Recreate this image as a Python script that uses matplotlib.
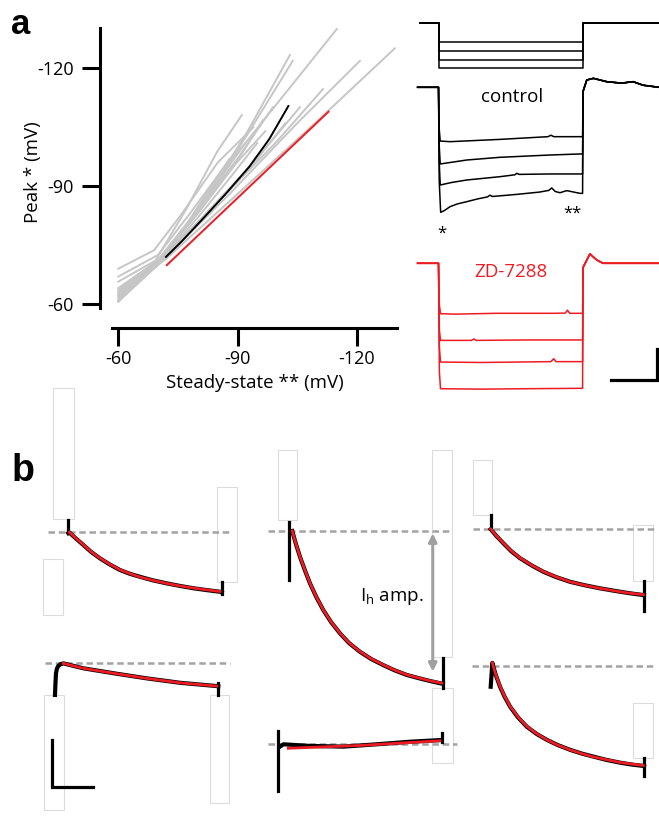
import numpy as np
import matplotlib
matplotlib.use('Agg')
import matplotlib.pyplot as plt
from matplotlib.patches import Rectangle

plt.rcParams['font.family'] = ['Open Sans', 'DejaVu Sans']
plt.rcParams['axes.unicode_minus'] = False
plt.rcParams['mathtext.fontset'] = 'custom'
plt.rcParams['mathtext.rm'] = 'Open Sans'

W, H = 659, 839
RED = '#ed1c24'
GRAY = '#c6c6c6'
DASH = '#a3a3a3'
BOX = '#dcdcdc'

# ---------- panel a, left: peak vs steady-state (mV) ----------
gray_x = [
    [-60, -69, -80, -92, -115],
    [-60, -72, -90, -110, -129.6],
    [-60, -71, -88, -105, -120.8],
    [-60, -70, -80, -92, -103.2],
    [-60, -70, -81, -93, -103.9],
    [-60, -72, -88, -100, -111.5],
    [-60, -71, -82, -94, -105.7],
    [-60, -70, -80, -90, -98.9],
    [-60, -69, -77, -85, -91.1],
    [-60, -71, -80, -89, -96.4],
    [-60, -69, -76, -85, -94],
    [-60, -70, -78, -86, -92],
    [-60, -71, -79, -88, -97],
    [-60, -70, -78, -85, -90],
    [-60, -72, -85, -95, -102],
    [-60, -70, -77, -84, -88],
    [-60, -71, -80, -88, -95],
]
gray_y = [
    [-61, -70, -84, -101, -130],
    [-62, -71.5, -88, -106.5, -125.1],
    [-63, -71, -88, -106, -121.9],
    [-60.6, -70, -84, -103, -123.4],
    [-61.5, -70.5, -85, -104, -121.9],
    [-64, -72.5, -89, -101.5, -114.7],
    [-62.5, -71, -83, -96, -110.1],
    [-63, -71, -84, -97, -110.1],
    [-60.6, -70.5, -84, -99, -108.1],
    [-63.5, -72, -83, -95, -106.8],
    [-69, -73.7, -83, -96, -105],
    [-67, -72.5, -83, -94, -101],
    [-65.7, -72, -82, -94, -104],
    [-62.2, -70.5, -81, -92, -99],
    [-64, -72.5, -86, -97, -106],
    [-61, -70, -80, -91, -97],
    [-62, -71.5, -82, -92, -101],
]
mean_x = [-72, -76, -81, -87, -93, -98, -102.8]
mean_y = [-72, -76, -81.4, -88, -95, -102, -110.4]
zd_line_x = [-72.2, -112.9]
zd_line_y = [-69.9, -108.95]
ticks_mv = [-60, -90, -120]

# ---------- panel a, right: traces (ms, pA / mV) ----------
cmd_levels = [-200, -295, -390, -480]
cmd_t = [-128, 0, 0, 1000, 1000, 1530]

ctrl_t = [
    [-145, -2, 0, 5, 12, 80, 427, 760, 780, 800, 982, 1000],
    [-145, -2, 0, 5, 12, 90, 196, 427, 774, 982, 1000],
    [-145, -2, 0, 5, 12, 90, 196, 427, 530, 543, 560, 774, 1000],
    [-145, -2, 0, 5, 15, 40, 80, 130, 196, 270, 340, 357, 375, 543, 700, 765, 786, 810,
     843, 890, 982, 1000],
]
ctrl_v = [
    [-60, -60, -60, -80, -85.8, -86.1, -85.0, -83.7, -83.0, -83.7, -83.7, -83.7],
    [-60, -60, -60, -88, -96.8, -96.0, -94.9, -93.6, -92.5, -92.0, -92.0],
    [-60, -60, -60, -96, -106.9, -105.7, -104.5, -102.9, -102.0, -101.3, -101.8, -101.6, -101.6],
    [-60, -60, -60, -105, -120, -119.2, -117.3, -116.0, -114.9, -113.6, -112.6, -111.8,
     -112.4, -111.4, -110.3, -109.5, -108.3, -110, -110.6, -109.6, -110.9, -110.9],
]
ctrl_ret_t = [1003, 1029, 1075, 1167, 1270, 1350, 1420, 1530]
ctrl_ret_v = [-62, -56.5, -55.7, -57.3, -58, -57.3, -59, -60]

zd_t = [
    [-145, -2, 0, 6, 14, 120, 400, 800, 880, 895, 910, 990, 1000],
    [-145, -2, 0, 6, 14, 200, 230, 245, 260, 600, 1000],
    [-145, -2, 0, 6, 14, 300, 780, 800, 815, 1000],
    [-145, -2, 0, 6, 14, 300, 600, 1000],
]
zd_v = [
    [-60, -60, -60, -80, -84.2, -84.4, -84.0, -84.0, -83.9, -82.5, -84.0, -84.0, -84.0],
    [-60, -60, -60, -92, -97, -97, -97, -96.3, -97, -96.8, -96.8],
    [-60, -60, -60, -100, -107.4, -107.6, -107.2, -105.8, -107.2, -107.2],
    [-60, -60, -60, -112, -120.2, -120.4, -120.2, -120.0],
]
zd_ret_t = [1003, 1051, 1098, 1142, 1530]
zd_ret_v = [-62, -55.5, -58.4, -60, -60]
bar_ms, bar_mv = 320, 15

# ---------- panel b: Ih traces (ms, pA) with fits ----------
b_trace_t = [
    [0, 6, 40, 92, 140, 193, 250, 315, 375, 437, 515, 600, 680, 763, 845, 925, 936],
    [18, 40, 65, 95, 126, 165, 207, 255, 309, 365, 431, 500, 573, 645, 716, 790, 858, 936],
    [0, 35, 77, 125, 179, 250, 321, 400, 484, 575, 667, 750, 829, 880, 935],
    [0, 2, 6, 12, 20, 35, 51, 173, 356, 559, 763, 986, 996],
    [10, 31, 193, 397, 600, 803, 986, 997],
    [0, 10, 30, 57, 85, 118, 165, 220, 280, 344, 410, 484, 555, 626, 705, 789, 860, 931, 935],
]
b_trace_i = [
    [-6, -3, -25, -57, -87, -114, -139, -164, -180, -193, -208, -221, -232, -242, -250, -257, -260],
    [0, -55, -110, -168, -224, -283, -338, -390, -438, -480, -517, -548, -574, -597, -616, -630,
     -642, -654],
    [-1, -30, -61, -95, -125, -156, -183, -206, -226, -241, -254, -264, -273, -278, -283],
    [-138, -100, -45, -25, -14, -6, -3, -24, -45, -67, -86, -100, -101],
    [-10, 0, -7, -10, 0, 11, 18, 18],
    [-90, 12, -38, -90, -133, -175, -220, -261, -292, -318, -340, -360, -376, -389, -403, -415,
     -423, -429, -430],
]
b_fit_t = [
    [6, 40, 92, 140, 193, 250, 315, 375, 437, 515, 600, 680, 763, 845, 925],
    [18, 40, 65, 95, 126, 165, 207, 255, 309, 365, 431, 500, 573, 645, 716, 790, 858, 930],
    [0, 35, 77, 125, 179, 250, 321, 400, 484, 575, 667, 750, 829, 880, 931],
    [51, 173, 356, 559, 763, 986],
    [61, 498, 986],
    [10, 30, 57, 85, 118, 165, 220, 280, 344, 410, 484, 555, 626, 705, 789, 860, 931],
]
b_fit_i = [
    [-2, -24, -56, -86, -113, -138, -163, -179, -194, -208, -221, -232, -241, -249, -256],
    [0, -54, -109, -167, -223, -282, -337, -389, -437, -479, -516, -547, -573, -596, -615, -629,
     -641, -651],
    [0, -29, -60, -94, -124, -155, -182, -205, -226, -241, -254, -264, -273, -277, -281],
    [-3, -24, -45, -67, -86, -100],
    [-17, -5, 15],
    [12, -36, -88, -131, -173, -218, -259, -291, -318, -340, -360, -376, -390, -402, -414,
     -421, -427],
]
b_onset_i = [(50, -6), (40, -210), (60, 0), None, (58, -199), None]
b_end_t = [936, 936, 935, 996, 997, 935]
b_end_i = [(-214, -267), (-545, -673), (-221, -350), (-88, -138), (11, 50), (-396, -472)]
b_base_t = [(-122, 997), (-128, 980), (-110, 1002), (-61, 1068), (-61, 1088), (-116, 992)]
ih_amp_t, ih_amp_i = 875, (-10, -602)
sb_ms, sb_pa = 250, 200

# leftover white masks (t0, i0, dt, di) per subpanel
b_masks = [
    [(-92, 54, 129, 561), (905, -214, 122, 405), (-153, -357, 122, 239)],
    [(-67, 47, 116, 300), (869, -538, 122, 885), (870, -993, 129, 321)],
    [(-110, 60, 120, 235), (870, -221, 122, 238)],
    [(-67, -630, 122, 492), (946, -602, 117, 464)],
    [],
    [(870, -395, 122, 234)],
]

# layout: pixel where (t=0, value=0) lands, and units per pixel
b_origin = [(68.3, 531.7), (289.3, 531), (490.7, 529), (55, 662.7), (278.3, 744.3), (490.7, 665.7)]
B_SX, B_SY = 6.1, 4.28

fig = plt.figure(figsize=(W / 100, H / 100), dpi=100)


def overlay(x0, y0, sx, sy):
    ax = fig.add_axes([0, 0, 1, 1])
    ax.set_xlim(-x0 * sx, (W - x0) * sx)
    ax.set_ylim((y0 - H) * sy, y0 * sy)
    ax.axis('off')
    return ax


# panel a left
ax = fig.add_axes([100 / W, 1 - 328 / H, 297 / W, 300 / H])
ax.patch.set_visible(False)
ax.set_xlim(-55.39, -130.14)
ax.set_ylim(-53.9, -130.26)
for gx, gy in zip(gray_x, gray_y):
    ax.plot(gx, gy, color=GRAY, lw=1.4)
ax.plot(mean_x, mean_y, color='black', lw=1.4)
ax.plot(zd_line_x, zd_line_y, color=RED, lw=1.4)
for s in ['top', 'right']:
    ax.spines[s].set_visible(False)
for s in ['left', 'bottom']:
    ax.spines[s].set_linewidth(2.2)
ax.spines['left'].set_bounds(-58.9, -130.2)
ax.spines['bottom'].set_bounds(-58.4, -130.14)
ax.set_xticks(ticks_mv)
ax.set_yticks(ticks_mv)
ax.tick_params(direction='out', length=13, width=2.2, labelsize=13)
ax.tick_params(axis='y', pad=6)
ax.tick_params(axis='x', pad=3)
ax.set_xlabel('Steady-state ** (mV)', fontsize=13.5)
ax.xaxis.set_label_coords(0.522, -0.183)
ax.xaxis.label.set_verticalalignment('center')
ax.set_ylabel('Peak * (mV)', fontsize=13.5)
ax.yaxis.set_label_coords(-0.2256, 0.52)
ax.yaxis.label.set_verticalalignment('center')

# panel a right: command steps
axc = overlay(438.5, 22.7, 6.94, 10.5)
for lev in cmd_levels:
    axc.plot(cmd_t, [0, 0, lev, lev, 0, 0], color='black', lw=1.1)

# control traces
axk = overlay(438.5, -37.7, 6.94, 0.48)
for tt, vv in zip(ctrl_t, ctrl_v):
    axk.plot(tt + ctrl_ret_t, vv + ctrl_ret_v, color='black', lw=1.1)

# ZD-7288 traces
axz = overlay(438.5, 138.3, 6.94, 0.48)
for tt, vv in zip(zd_t, zd_v):
    axz.plot(tt + zd_ret_t, vv + zd_ret_v, color=RED, lw=1.1)
sb_t0, sb_v0 = 1197, -116
axz.plot([sb_t0, sb_t0 + bar_ms, sb_t0 + bar_ms], [sb_v0, sb_v0, sb_v0 + bar_mv],
         color='black', lw=2.3, solid_joinstyle='miter')

fig.text(512 / W, 1 - 97 / H, 'control', ha='center', va='center', fontsize=13.5)
fig.text(511 / W, 1 - 272 / H, 'ZD-7288', ha='center', va='center', fontsize=13.5, color=RED)
fig.text(441.5 / W, 1 - 234 / H, '*', ha='center', va='center', fontsize=12)
fig.text(572 / W, 1 - 214 / H, '**', ha='center', va='center', fontsize=12)

# panel b
for k in range(6):
    x0, y0 = b_origin[k]
    axb = overlay(x0, y0, B_SX, B_SY)
    for (t0, i0, dt, di) in b_masks[k]:
        axb.add_patch(Rectangle((t0, i0), dt, di, facecolor='white', edgecolor=BOX, lw=0.8, zorder=1))
    axb.plot(b_base_t[k], [0, 0], color=DASH, lw=1.8, dashes=(2.6, 1.5), zorder=2)
    if b_onset_i[k] is not None:
        axb.plot([0, 0], b_onset_i[k], color='black', lw=2.3, zorder=3)
    axb.plot(b_trace_t[k], b_trace_i[k], color='black', lw=3.0, zorder=3)
    axb.plot([b_end_t[k]] * 2, b_end_i[k], color='black', lw=2.3, zorder=3)
    axb.plot(b_fit_t[k], b_fit_i[k], color=RED, lw=2.0, zorder=4)
    if k == 1:
        axb.annotate('', xy=(ih_amp_t, ih_amp_i[0]), xytext=(ih_amp_t, ih_amp_i[1]),
                     arrowprops=dict(arrowstyle='<|-|>', color='#a0a0a0', lw=2.2,
                                     mutation_scale=12, shrinkA=0, shrinkB=0), zorder=5)
        axb.text(626, -282, r'I$_\mathrm{h}$ amp.', ha='center', va='center', fontsize=13.5)
    if k == 3:
        axb.plot([-20, -20, -20 + sb_ms], [-331, -331 - sb_pa, -331 - sb_pa],
                 color='black', lw=2.3, solid_joinstyle='miter', zorder=3)

fig.text(21 / W, 1 - 24 / H, 'a', ha='center', va='center', fontsize=25,
         fontweight='bold', family='Liberation Sans')
fig.text(23 / W, 1 - 471 / H, 'b', ha='center', va='center', fontsize=27,
         fontweight='bold', family='Liberation Sans')

fig.savefig('out.png', dpi=100)
